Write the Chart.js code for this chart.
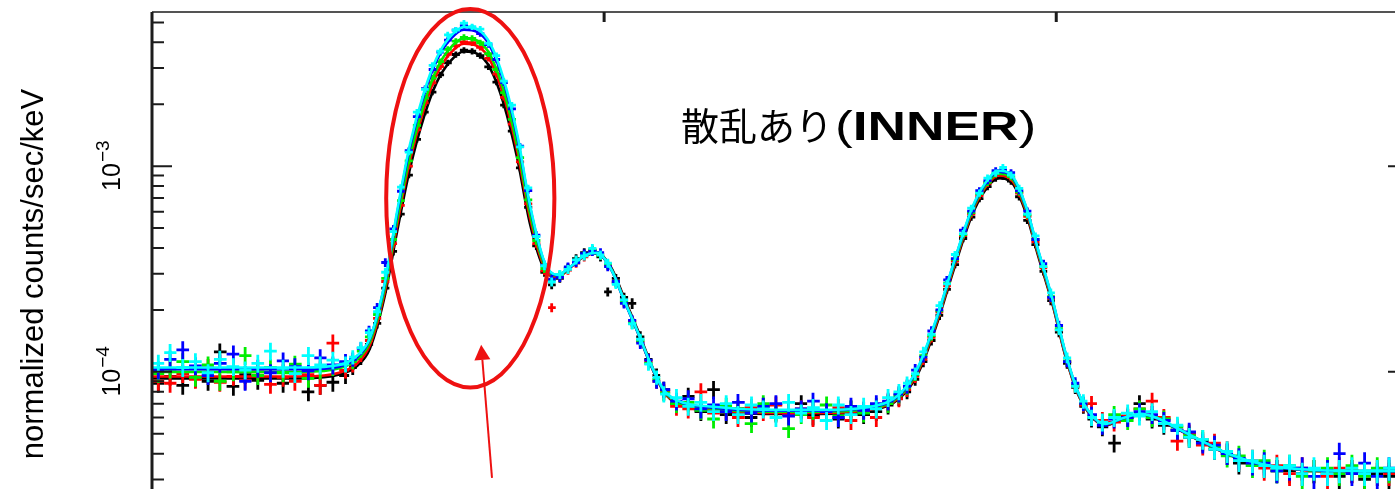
<!DOCTYPE html>
<html>
<head>
<meta charset="utf-8">
<script src="https://cdn.jsdelivr.net/npm/chart.js@4.4.1/dist/chart.umd.min.js"></script>
<style>
  html, body { margin: 0; padding: 0; background: #fff; overflow: hidden; }
  #wrap { position: relative; width: 1460px; height: 560px; }
</style>
</head>
<body>
<div id="wrap"><canvas id="spec" width="1460" height="560"></canvas></div>
<script>
// rates are in units of 1e-4 counts/sec/keV
const UNIT = 1e-4;

// bin centres (keV)
const energy = [
  1.507, 1.520, 1.534, 1.548, 1.562, 1.575, 1.590, 1.603, 1.617, 1.631, 1.645, 1.658, 1.673, 1.686, 1.700, 1.714,
  1.722, 1.731, 1.740, 1.749, 1.758, 1.767, 1.775, 1.784, 1.793, 1.802, 1.810, 1.819, 1.827, 1.836, 1.845, 1.854,
  1.863, 1.872, 1.881, 1.889, 1.898, 1.907, 1.916, 1.925, 1.934, 1.942,
  1.951, 1.960, 1.969, 1.978, 1.987, 1.996, 2.004, 2.013, 2.022, 2.031, 2.040, 2.049, 2.058, 2.066,
  2.080, 2.093, 2.107, 2.121, 2.135, 2.148, 2.163, 2.176, 2.190, 2.204, 2.218, 2.231, 2.246, 2.259, 2.273, 2.287,
  2.301, 2.314, 2.326,
  2.335, 2.344, 2.353, 2.362, 2.371, 2.379, 2.388, 2.397, 2.406, 2.415, 2.424, 2.433, 2.441, 2.450, 2.459, 2.468,
  2.477, 2.486, 2.494, 2.503, 2.512, 2.521, 2.530, 2.539,
  2.551, 2.564, 2.579, 2.592, 2.606, 2.619, 2.634, 2.647, 2.662, 2.675, 2.689, 2.702, 2.717, 2.730, 2.744, 2.758,
  2.772, 2.785, 2.800, 2.813, 2.827, 2.841, 2.855, 2.868, 2.883
];

// fractional 1-sigma error of each bin
const relErr = [
  .10, .10, .10, .10, .10, .10, .10, .10, .10, .10, .10, .10, .10, .10, .10, .09,
  .08, .07, .06, .055, .05, .045, .035, .035, .035, .035, .035, .035, .035, .035, .035, .035,
  .035, .035, .035, .035, .035, .035, .035, .045, .05, .05,
  .05, .05, .05, .05, .05, .05, .05, .05, .055, .06, .065, .07, .08, .09,
  .10, .10, .10, .10, .10, .10, .10, .10, .10, .10, .10, .10, .10, .10, .10, .10, .10, .10, .09,
  .08, .07, .06, .055, .05, .045, .04, .04, .04, .04, .04, .04, .04, .04, .04, .04,
  .04, .045, .05, .055, .06, .07, .08, .09,
  .10, .10, .10, .10, .10, .10, .10, .11, .11, .11, .12, .12, .13, .13, .13, .13,
  .13, .13, .13, .13, .13, .13, .13, .13, .13
];

const rateBlack = [
  0.88, 0.95, 0.86, 0.93, 0.90, 1.25, 0.85, 0.97, 0.91, 0.94, 0.88, 0.99, 0.80, 0.86, 0.89, 0.96,
  1.05, 1.16, 1.36, 1.72, 2.55, 3.85, 5.85, 9.05, 13.5, 18.3, 22.9, 27.8, 31.8, 34.9, 36.6, 36.2,
  34.5, 30.4, 25.6, 19.8, 14.8, 9.80, 6.30, 4.10, 3.05, 2.65,
  2.85, 3.20, 3.55, 3.80, 3.90, 3.62, 2.45, 2.85, 2.30, 2.15, 1.48, 1.15, 0.96, 0.82,
  0.70, 0.76, 0.64, 0.82, 0.62, 0.66, 0.60, 0.68, 0.63, 0.65, 0.70, 0.61, 0.64, 0.59, 0.66, 0.62, 0.64, 0.69, 0.75,
  0.80, 0.92, 1.12, 1.42, 1.88, 2.52, 3.32, 4.45, 5.65, 6.95, 7.95, 8.75, 8.95, 8.45, 7.10, 5.45,
  4.15, 3.08, 2.22, 1.56, 1.10, 0.84, 0.68, 0.59,
  0.54, 0.45, 0.60, 0.70, 0.59, 0.55, 0.52, 0.48, 0.46, 0.42, 0.40, 0.36, 0.36, 0.35, 0.33, 0.33,
  0.32, 0.33, 0.32, 0.31, 0.33, 0.30, 0.32, 0.31, 0.32
];

const rateRed = [
  0.90, 0.88, 0.98, 0.92, 1.05, 0.89, 0.95, 0.91, 1.00, 0.87, 0.94, 0.90, 0.97, 0.86, 1.38, 1.02,
  1.08, 1.20, 1.42, 1.82, 2.75, 4.20, 6.45, 10.0, 15.0, 20.3, 25.4, 30.5, 35.0, 38.4, 40.2, 39.8,
  37.8, 33.4, 28.0, 21.6, 16.0, 10.5, 6.55, 4.20, 3.10, 2.05,
  2.90, 3.12, 3.38, 3.62, 3.88, 3.72, 3.30, 2.74, 2.18, 1.76, 1.40, 1.12, 0.90, 0.80,
  0.68, 0.66, 0.80, 0.63, 0.65, 0.60, 0.67, 0.64, 0.69, 0.62, 0.66, 0.60, 0.64, 0.67, 0.58, 0.65, 0.60, 0.71, 0.74,
  0.82, 0.95, 1.15, 1.47, 1.95, 2.62, 3.45, 4.60, 5.85, 7.20, 8.25, 9.10, 9.30, 8.80, 7.40, 5.70,
  4.30, 3.20, 2.28, 1.60, 1.12, 0.85, 0.69, 0.70,
  0.58, 0.57, 0.61, 0.66, 0.72, 0.60, 0.46, 0.50, 0.44, 0.45, 0.41, 0.37, 0.37, 0.34, 0.35, 0.32,
  0.34, 0.33, 0.31, 0.34, 0.33, 0.31, 0.33, 0.32, 0.33
];

const rateGreen = [
  0.98, 1.03, 1.12, 0.94, 1.08, 0.90, 1.00, 1.20, 0.96, 1.05, 0.99, 1.09, 0.93, 1.02, 1.06, 1.10,
  1.12, 1.26, 1.48, 1.90, 2.85, 4.40, 6.80, 10.6, 15.8, 21.5, 26.8, 32.2, 37.0, 40.5, 42.3, 41.8,
  39.8, 35.2, 29.5, 22.8, 16.9, 11.0, 6.85, 4.35, 3.18, 2.80,
  2.95, 3.18, 3.45, 3.70, 3.92, 3.68, 3.35, 2.70, 2.22, 1.72, 1.42, 1.10, 0.92, 0.79,
  0.70, 0.71, 0.65, 0.59, 0.68, 0.66, 0.56, 0.70, 0.64, 0.53, 0.62, 0.65, 0.69, 0.61, 0.66, 0.63, 0.68, 0.70, 0.77,
  0.84, 0.97, 1.20, 1.50, 1.98, 2.70, 3.52, 4.65, 5.95, 7.35, 8.35, 9.20, 9.45, 8.90, 7.50, 5.80,
  4.40, 3.25, 2.32, 1.62, 1.13, 0.86, 0.70, 0.61,
  0.56, 0.62, 0.58, 0.66, 0.60, 0.59, 0.54, 0.49, 0.47, 0.43, 0.39, 0.39, 0.35, 0.37, 0.33, 0.35,
  0.31, 0.33, 0.34, 0.32, 0.35, 0.31, 0.34, 0.33, 0.32
];

const rateBlue = [
  1.02, 1.15, 1.28, 1.07, 0.96, 1.10, 1.22, 0.90, 1.04, 0.99, 1.13, 1.06, 1.01, 1.17, 1.08, 1.12,
  1.15, 1.30, 1.58, 2.05, 3.40, 4.95, 7.55, 11.9, 17.4, 23.8, 29.5, 35.8, 41.0, 45.8, 48.2, 47.0,
  44.1, 39.0, 33.0, 25.5, 19.0, 12.5, 7.60, 4.62, 3.30, 2.82,
  2.88, 3.24, 3.40, 3.75, 3.85, 3.80, 3.25, 2.75, 2.15, 1.78, 1.38, 1.14, 0.90, 0.82,
  0.72, 0.74, 0.66, 0.69, 0.64, 0.71, 0.63, 0.68, 0.70, 0.61, 0.66, 0.72, 0.64, 0.60, 0.68, 0.65, 0.70, 0.72, 0.78,
  0.85, 1.02, 1.18, 1.58, 2.00, 2.80, 3.55, 4.88, 6.05, 7.60, 8.50, 9.50, 9.60, 9.30, 7.60, 6.05,
  4.40, 3.36, 2.30, 1.68, 1.12, 0.88, 0.70, 0.62,
  0.55, 0.59, 0.60, 0.64, 0.62, 0.58, 0.52, 0.51, 0.45, 0.44, 0.40, 0.38, 0.36, 0.36, 0.33, 0.34,
  0.34, 0.31, 0.33, 0.40, 0.32, 0.36, 0.31, 0.34, 0.33
];

const rateCyan = [
  1.10, 1.24, 1.05, 1.12, 0.99, 1.15, 1.06, 1.02, 1.10, 1.26, 1.04, 0.98, 1.20, 1.08, 1.14, 1.09,
  1.18, 1.31, 1.55, 1.96, 3.05, 4.80, 7.90, 11.7, 18.3, 23.6, 30.9, 36.2, 43.5, 45.9, 49.6, 47.6,
  46.4, 39.5, 34.5, 25.9, 19.8, 12.4, 7.85, 4.55, 3.28, 2.74,
  2.98, 3.15, 3.50, 3.66, 3.98, 3.70, 3.38, 2.66, 2.24, 1.71, 1.44, 1.09, 0.94, 0.78,
  0.75, 0.68, 0.71, 0.64, 0.70, 0.62, 0.69, 0.66, 0.60, 0.71, 0.63, 0.67, 0.58, 0.69, 0.62, 0.68, 0.66, 0.75, 0.80,
  0.88, 0.98, 1.25, 1.52, 2.10, 2.68, 3.72, 4.70, 6.25, 7.40, 8.75, 9.25, 9.85, 9.05, 7.80, 5.85,
  4.58, 3.25, 2.42, 1.60, 1.17, 0.85, 0.72, 0.60,
  0.57, 0.60, 0.63, 0.61, 0.64, 0.56, 0.55, 0.48, 0.47, 0.42, 0.41, 0.37, 0.37, 0.35, 0.34, 0.35,
  0.32, 0.34, 0.32, 0.33, 0.34, 0.32, 0.33, 0.34, 0.32
];

// folded model curves (keV grid shared by all five)
const modelEnergy = [
  1.500, 1.550, 1.608, 1.667, 1.707, 1.727, 1.741, 1.757, 1.771, 1.785, 1.801, 1.815, 1.830, 1.845, 1.860,
  1.874, 1.889, 1.904, 1.918, 1.934, 1.948, 1.964, 1.978, 1.992, 2.008, 2.022, 2.037, 2.052, 2.066, 2.082,
  2.121, 2.180, 2.239, 2.299, 2.327, 2.347, 2.367, 2.387, 2.407, 2.421, 2.436, 2.451, 2.466, 2.480, 2.496,
  2.510, 2.524, 2.540, 2.554, 2.574, 2.594, 2.614, 2.633, 2.663, 2.693, 2.731, 2.781, 2.840, 2.888
];

const modelBlack = [
  0.93, 0.93, 0.93, 0.93, 0.97, 1.07, 1.30, 2.30, 4.80, 9.60, 17.5, 25.6, 32.4, 36.1, 35.1,
  29.9, 20.1, 10.9, 5.25, 3.15, 2.90, 3.26, 3.66, 3.80, 3.20, 2.30, 1.60, 1.09, 0.800, 0.695,
  0.648, 0.625, 0.625, 0.655, 0.745, 0.98, 1.66, 3.18, 5.80, 7.60, 8.75, 8.30, 6.00, 3.66, 2.12,
  1.20, 0.780, 0.600, 0.550, 0.590, 0.618, 0.585, 0.530, 0.452, 0.392, 0.350, 0.332, 0.328, 0.328
];
const modelRed = [
  0.95, 0.95, 0.95, 0.95, 0.99, 1.10, 1.35, 2.40, 5.15, 10.5, 19.1, 28.0, 35.4, 39.4, 38.3,
  32.7, 21.9, 11.8, 5.60, 3.22, 2.90, 3.25, 3.64, 3.76, 3.15, 2.26, 1.57, 1.07, 0.800, 0.700,
  0.655, 0.632, 0.632, 0.662, 0.755, 1.00, 1.70, 3.26, 5.97, 7.80, 9.02, 8.54, 6.16, 3.74, 2.15,
  1.21, 0.785, 0.604, 0.553, 0.593, 0.621, 0.587, 0.531, 0.454, 0.393, 0.351, 0.332, 0.328, 0.328
];
const modelGreen = [
  1.00, 1.00, 1.00, 1.00, 1.04, 1.15, 1.40, 2.50, 5.45, 11.1, 20.2, 29.7, 37.6, 41.8, 40.7,
  34.7, 23.2, 12.5, 5.90, 3.30, 2.93, 3.27, 3.66, 3.78, 3.14, 2.24, 1.56, 1.07, 0.805, 0.710,
  0.662, 0.640, 0.640, 0.670, 0.765, 1.02, 1.74, 3.33, 6.08, 7.96, 9.20, 8.72, 6.30, 3.82, 2.19,
  1.23, 0.792, 0.607, 0.556, 0.596, 0.624, 0.589, 0.533, 0.456, 0.394, 0.352, 0.333, 0.329, 0.329
];
const modelBlue = [
  1.03, 1.03, 1.03, 1.03, 1.06, 1.18, 1.45, 2.62, 5.85, 12.2, 22.3, 32.7, 41.4, 46.1, 44.8,
  38.2, 25.6, 13.8, 6.35, 3.40, 2.95, 3.27, 3.66, 3.78, 3.13, 2.23, 1.56, 1.07, 0.812, 0.718,
  0.670, 0.648, 0.648, 0.678, 0.775, 1.04, 1.77, 3.40, 6.20, 8.12, 9.40, 8.90, 6.42, 3.89, 2.22,
  1.24, 0.795, 0.608, 0.556, 0.595, 0.623, 0.588, 0.532, 0.455, 0.394, 0.352, 0.333, 0.329, 0.329
];
const modelCyan = [
  1.05, 1.05, 1.05, 1.05, 1.08, 1.20, 1.46, 2.65, 6.01, 12.6, 23.0, 33.7, 42.7, 47.5, 46.2,
  39.4, 26.4, 14.2, 6.48, 3.43, 2.96, 3.28, 3.67, 3.79, 3.14, 2.24, 1.57, 1.08, 0.817, 0.723,
  0.676, 0.653, 0.653, 0.683, 0.782, 1.05, 1.79, 3.43, 6.28, 8.21, 9.50, 8.99, 6.48, 3.92, 2.24,
  1.25, 0.80, 0.611, 0.558, 0.597, 0.625, 0.590, 0.534, 0.457, 0.395, 0.353, 0.334, 0.330, 0.330
];

// axis ticks and labels
const xMajorTicks = [2.0, 2.5];
const yMajorTicks = [1e-4, 1e-3];
const yTickBase = ['10', '10'];
const yTickExp = ['\u22124', '\u22123'];
const yTitle = 'normalized counts/sec/keV';

// annotation: ring around the Si line, arrow, label
const ringEnergy = [1.759, 1.945];
const ringRate = [8.4e-5, 5.8e-3];
const arrowFrom = { e: 1.876, r: 3.05e-5 };
const arrowTo = { e: 1.864, r: 1.353e-4 };
const noteAt = { e: 2.085, r: 1.34e-3 };
const noteJa = '散乱あり';
const noteParts = [['(', 'normal'], ['INNER', 'bold'], [')', 'normal']];

const series = [
  { color: '#000000', rate: rateBlack, model: modelBlack },
  { color: '#ff0000', rate: rateRed, model: modelRed },
  { color: '#00ee00', rate: rateGreen, model: modelGreen },
  { color: '#0000ff', rate: rateBlue, model: modelBlue },
  { color: '#00ffff', rate: rateCyan, model: modelCyan }
];

function pt(e, r) { return { x: e, y: r * UNIT }; }

function binEdges(i) {
  const n = energy.length;
  const lo = i > 0 ? (energy[i - 1] + energy[i]) / 2 : energy[i] - (energy[i + 1] - energy[i]) / 2;
  const hi = i < n - 1 ? (energy[i] + energy[i + 1]) / 2 : energy[i] + (energy[i] - energy[i - 1]) / 2;
  return [lo, hi];
}

// each cross = horizontal bin bar + vertical error bar, separated by gaps
function crosses(rate) {
  const h = [], v = [];
  rate.forEach((r, i) => {
    const [lo, hi] = binEdges(i);
    h.push(pt(lo, r), pt(hi, r), { x: hi, y: null });
    v.push(pt(energy[i], r * (1 - relErr[i])), pt(energy[i], r * (1 + relErr[i])), { x: energy[i], y: null });
  });
  return { h, v };
}

const datasets = [];
series.forEach((s, i) => {
  const base = (series.length - 1 - i) * 3;
  const c = crosses(s.rate);
  datasets.push({
    data: modelEnergy.map((e, k) => pt(e, s.model[k])),
    borderColor: s.color, borderWidth: 2.6, pointRadius: 0,
    cubicInterpolationMode: 'monotone', order: base + 2
  });
  datasets.push({
    data: c.h, borderColor: s.color, borderWidth: 2.8, pointRadius: 0,
    spanGaps: false, borderCapStyle: 'butt', order: base + 1
  });
  datasets.push({
    data: c.v, borderColor: s.color, borderWidth: 2.8, pointRadius: 0,
    spanGaps: false, borderCapStyle: 'butt', order: base
  });
});

const framePlugin = {
  id: 'frame',
  afterDatasetsDraw(chart) {
    const { ctx, chartArea: a, scales: { x, y } } = chart;
    ctx.save();
    ctx.strokeStyle = '#1c1c1c';
    ctx.lineCap = 'butt';

    ctx.lineWidth = 3;
    ctx.beginPath();
    ctx.moveTo(a.left, a.top); ctx.lineTo(a.left, a.bottom);
    ctx.moveTo(a.right, a.top); ctx.lineTo(a.right, a.bottom);
    ctx.stroke();
    ctx.lineWidth = 1.6;
    ctx.beginPath();
    ctx.moveTo(a.left, a.top); ctx.lineTo(a.right, a.top);
    ctx.moveTo(a.left, a.bottom); ctx.lineTo(a.right, a.bottom);
    ctx.stroke();

    // log ticks on both y axes
    ctx.lineWidth = 2;
    ctx.beginPath();
    for (let d = -6; d <= -2; d++) {
      for (let k = 1; k <= 9; k++) {
        const v = k * Math.pow(10, d);
        if (v < y.min || v > y.max) continue;
        const py = y.getPixelForValue(v);
        const len = k === 1 ? 20 : 12;
        ctx.moveTo(a.left, py); ctx.lineTo(a.left + len, py);
        ctx.moveTo(a.right, py); ctx.lineTo(a.right - len, py);
      }
    }
    ctx.stroke();

    ctx.lineWidth = 3;
    ctx.beginPath();
    xMajorTicks.forEach(e => {
      const px = x.getPixelForValue(e);
      ctx.moveTo(px, a.top); ctx.lineTo(px, a.top + 10);
      ctx.moveTo(px, a.bottom); ctx.lineTo(px, a.bottom - 10);
    });
    ctx.stroke();
    ctx.restore();
  },
  afterDraw(chart) {
    const { ctx, chartArea: a, scales: { x, y } } = chart;
    ctx.save();
    ctx.fillStyle = '#000';
    ctx.textBaseline = 'alphabetic';

    // y tick labels, rotated
    const baseFont = '25px "Liberation Sans", Arial, sans-serif';
    const expFont = '19px "Liberation Sans", Arial, sans-serif';
    yMajorTicks.forEach((v, i) => {
      const py = y.getPixelForValue(v);
      ctx.save();
      ctx.translate(a.left - 32, py);
      ctx.rotate(-Math.PI / 2);
      ctx.font = baseFont;
      const w1 = ctx.measureText(yTickBase[i]).width;
      ctx.font = expFont;
      const w2 = ctx.measureText(yTickExp[i]).width;
      const start = -(w1 + w2) / 2;
      ctx.font = baseFont;
      ctx.fillText(yTickBase[i], start, 0);
      ctx.font = expFont;
      ctx.fillText(yTickExp[i], start + w1 + 1, -11);
      ctx.restore();
    });

    // y axis title
    ctx.save();
    ctx.translate(43, (a.top + a.bottom) / 2);
    ctx.rotate(-Math.PI / 2);
    ctx.textAlign = 'center';
    ctx.font = '31px "Liberation Sans", Arial, sans-serif';
    ctx.fillText(yTitle, 0, 0);
    ctx.restore();

    // red ring
    const rx0 = x.getPixelForValue(ringEnergy[0]), rx1 = x.getPixelForValue(ringEnergy[1]);
    const ry0 = y.getPixelForValue(ringRate[1]), ry1 = y.getPixelForValue(ringRate[0]);
    ctx.strokeStyle = '#ee1111';
    ctx.lineWidth = 4;
    ctx.beginPath();
    ctx.ellipse((rx0 + rx1) / 2, (ry0 + ry1) / 2, (rx1 - rx0) / 2, (ry1 - ry0) / 2, 0, 0, Math.PI * 2);
    ctx.stroke();

    // arrow
    const ax0 = x.getPixelForValue(arrowFrom.e), ay0 = y.getPixelForValue(arrowFrom.r);
    const ax1 = x.getPixelForValue(arrowTo.e), ay1 = y.getPixelForValue(arrowTo.r);
    const ang = Math.atan2(ay1 - ay0, ax1 - ax0);
    const headLen = 15, headHalf = 8;
    const bx = ax1 - headLen * Math.cos(ang), by = ay1 - headLen * Math.sin(ang);
    ctx.lineWidth = 2;
    ctx.beginPath();
    ctx.moveTo(ax0, ay0); ctx.lineTo(bx, by);
    ctx.stroke();
    ctx.fillStyle = '#ee1111';
    ctx.beginPath();
    ctx.moveTo(ax1, ay1);
    ctx.lineTo(bx + headHalf * Math.sin(ang), by - headHalf * Math.cos(ang));
    ctx.lineTo(bx - headHalf * Math.sin(ang), by + headHalf * Math.cos(ang));
    ctx.closePath();
    ctx.fill();

    // label
    const tx = x.getPixelForValue(noteAt.e), ty = y.getPixelForValue(noteAt.r);
    ctx.fillStyle = '#000';
    ctx.textAlign = 'left';
    ctx.font = '38px "Noto Sans CJK JP", sans-serif';
    ctx.fillText(noteJa, tx, ty);
    const cx = tx + ctx.measureText(noteJa).width + 2;
    const fontOf = w => (w === 'bold' ? 'bold ' : '') + '40px "Liberation Sans", Arial, sans-serif';
    let natural = 0;
    noteParts.forEach(([t, w]) => { ctx.font = fontOf(w); natural += ctx.measureText(t).width; });
    const sx = (x.getPixelForValue(2.5) - 20 - cx) / natural;
    ctx.save();
    ctx.translate(cx, ty);
    ctx.scale(sx, 1);
    let off = 0;
    noteParts.forEach(([t, w]) => {
      ctx.font = fontOf(w);
      ctx.fillText(t, off, 0);
      off += ctx.measureText(t).width;
    });
    ctx.restore();
    ctx.restore();
  }
};

new Chart(document.getElementById('spec'), {
  type: 'line',
  data: { datasets },
  options: {
    responsive: false,
    animation: false,
    events: [],
    layout: { padding: { left: 152, top: 12, right: 52, bottom: 24 } },
    scales: {
      x: { type: 'linear', min: 1.5, max: 2.889, display: false },
      y: { type: 'logarithmic', min: 1.592e-5, max: 5.616e-3, display: false }
    },
    plugins: { legend: { display: false }, tooltip: { enabled: false } }
  },
  plugins: [framePlugin]
});
</script>
</body>
</html>
